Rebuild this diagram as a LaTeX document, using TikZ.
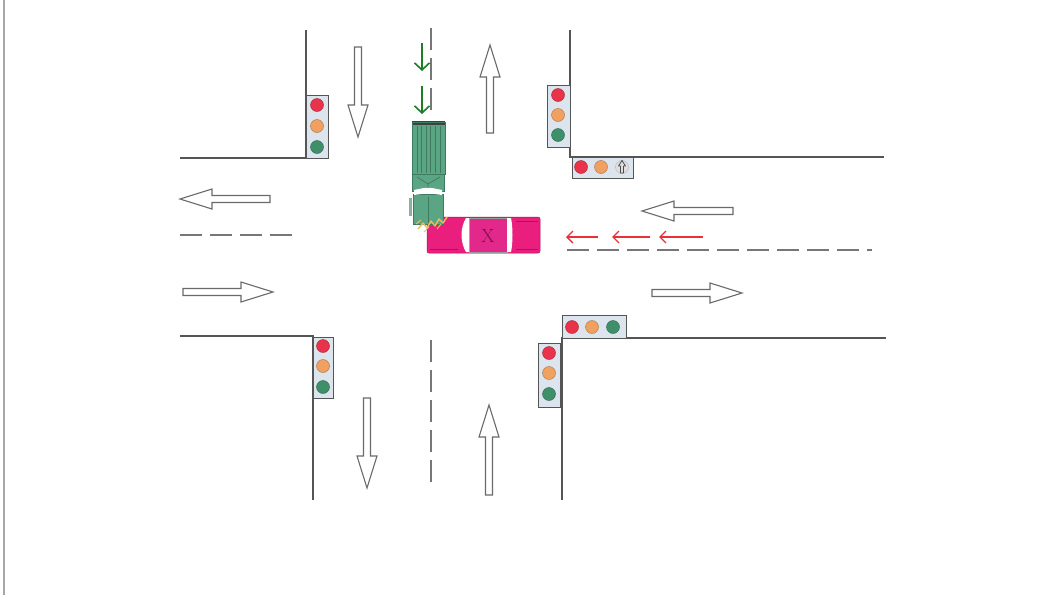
\documentclass[tikz,border=0pt]{standalone}
\usepackage{fontspec}
\usetikzlibrary{arrows.meta}
\definecolor{roadline}{HTML}{555555}
\definecolor{tlbox}{HTML}{DCE4EE}
\definecolor{tlred}{HTML}{E8334A}
\definecolor{tlorange}{HTML}{F0A060}
\definecolor{tlgreen}{HTML}{3F8F6A}
\definecolor{arrgray}{HTML}{6A6A6A}
\definecolor{greenarr}{HTML}{1E7D25}
\definecolor{redarr}{HTML}{E8303A}
\definecolor{truckgreen}{HTML}{5AA584}
\definecolor{truckdark}{HTML}{3E7A60}
\definecolor{carpink}{HTML}{E91E7D}
\definecolor{carroof}{HTML}{E2288A}
\definecolor{crash}{HTML}{E8C060}
\definecolor{xcol}{HTML}{7A1046}
\newcommand{\hollowArrow}[4]{%
  \begin{scope}[shift={(#1,#2)},rotate=#3]
    \draw[harrow] (0,-3.5) -- ({#4-32},-3.5) -- ({#4-32},-10) -- (#4,0) -- ({#4-32},10) -- ({#4-32},3.5) -- (0,3.5) -- cycle;
  \end{scope}}
\newcommand{\lamp}[3]{\fill[#3, draw=#3!70!black, line width=0.4pt] (#1,#2) circle (6.5);}
\begin{document}
\begin{tikzpicture}[x=1pt,y=-1pt,
  road/.style={draw=roadline, line width=1.2pt},
  centerline/.style={draw=roadline!80, line width=1.4pt, dash pattern=on 22pt off 8pt},
  harrow/.style={draw=arrgray, line width=1.1pt, fill=white, line join=miter},
  tlframe/.style={fill=tlbox, draw=roadline, line width=1pt},
  greenar/.style={draw=greenarr, line width=1.6pt, -{Straight Barb[length=7pt,width=15pt]}},
  redar/.style={draw=redarr, line width=1.3pt, -{Straight Barb[length=6pt,width=12pt]}}]
\useasboundingbox (0,0) rectangle (1045,595);
\fill[white] (0,0) rectangle (1045,595);
% left border line
\draw[draw=gray!70, line width=2pt] (4,0) -- (4,595);

% road edges
\draw[road] (306,30) -- (306,158) -- (180,158);
\draw[road] (570,30) -- (570,157) -- (884,157);
\draw[road] (180,336) -- (313,336) -- (313,500);
\draw[road] (886,338) -- (562,338) -- (562,500);

% centre lines
\draw[centerline] (431,28) -- (431,114);
\draw[centerline] (431,340) -- (431,488);
\draw[centerline] (180,235) -- (296,235);
\draw[centerline] (567,250) -- (872,250);

% hollow arrows
\hollowArrow{358}{47}{-90}{90}
\hollowArrow{490}{133}{90}{88}
\hollowArrow{270}{199}{180}{90}
\hollowArrow{183}{292}{0}{90}
\hollowArrow{733}{211}{180}{91}
\hollowArrow{652}{293}{0}{90}
\hollowArrow{367}{398}{-90}{90}
\hollowArrow{489}{495}{90}{90}

% green arrows
\draw[greenar] (422,43) -- (422,71);
\draw[greenar] (422,86) -- (422,114);

% red arrows
\draw[redar] (598,237) -- (566,237);
\draw[redar] (650,237) -- (612,237);
\draw[redar] (703,237) -- (659,237);

% traffic lights
\draw[tlframe] (306,95) rectangle (328,158);
\lamp{317}{105}{tlred}\lamp{317}{126}{tlorange}\lamp{317}{147}{tlgreen}
\draw[tlframe] (547,85) rectangle (570,147);
\lamp{558}{95}{tlred}\lamp{558}{115}{tlorange}\lamp{558}{135}{tlgreen}
\draw[tlframe] (572,157) rectangle (633,178);
\lamp{581}{167}{tlred}\lamp{601}{167}{tlorange}
\fill[gray!25, draw=gray!60, line width=0.4pt] (622,167) circle (6.5);
\draw[draw=black!70, line width=0.8pt, line join=round] (620.5,173) -- (620.5,166) -- (618.5,166) -- (622,160.5) -- (625.5,166) -- (623.5,166) -- (623.5,173) -- cycle;
\draw[tlframe] (562,315) rectangle (626,338);
\lamp{572}{327}{tlred}\lamp{592}{327}{tlorange}\lamp{613}{327}{tlgreen}
\draw[tlframe] (538,343) rectangle (560,407);
\lamp{549}{353}{tlred}\lamp{549}{373}{tlorange}\lamp{549}{394}{tlgreen}
\draw[tlframe] (313,337) rectangle (333,398);
\lamp{323}{346}{tlred}\lamp{323}{366}{tlorange}\lamp{323}{387}{tlgreen}

% car (X)
\fill[carpink, rounded corners=2pt] (427,217) rectangle (540,253);
\draw[carpink!70!black, line width=0.5pt, rounded corners=2pt] (427,217) rectangle (540,253);
\fill[carroof] (469,218) rectangle (507,252);
\draw[gray!80, line width=0.7pt] (469,218) rectangle (507,252);
\fill[white] (466,218) .. controls (460,228) and (460,242) .. (466,252) -- (469,252) -- (469,218) -- cycle;
\fill[white] (507,218) -- (511,218) .. controls (513,228) and (513,242) .. (511,252) -- (507,252) -- cycle;
\draw[carpink!70!black, line width=0.4pt] (516,221) -- (538,221) (516,249) -- (538,249) (430,249) -- (458,249);
\node[text=xcol, font=\fontsize{19}{19}\selectfont, inner sep=0pt] (carX) at (488,236) {X};

% truck (Y)
\fill[truckgreen] (412,122) rectangle (445,174);
\fill[black!75] (412,121) rectangle (445,125);
\foreach \xx in {417,421.5,426,430.5,435,440}
  \draw[truckdark, line width=0.6pt] (\xx,126) -- (\xx,173);
\draw[truckdark, line width=0.6pt] (412,122) rectangle (445,174);
\fill[truckgreen] (412,174) rectangle (444,191);
\draw[truckdark, line width=0.6pt] (412,174) rectangle (444,191);
\draw[truckdark, line width=0.7pt] (417,177) -- (428,184) -- (440,177) (428,184) -- (428,191);
\fill[truckgreen] (413,194) rectangle (443,224);
\draw[truckdark, line width=0.6pt] (413,194) rectangle (443,224);
\fill[white] (414,190) .. controls (428,187) .. (442,190) -- (442,195) .. controls (428,193) .. (414,195) -- cycle;
\draw[truckdark, line width=0.5pt] (428,197) -- (428,223);
\fill[truckdark!60] (409,198) rectangle (412,216);

% crash marks
\draw[crash, line width=1.4pt, line join=round] (418,229) -- (423,223) -- (427,228) -- (431,221) -- (435,226) -- (439,219) -- (443,223) -- (447,217);
\draw[crash, line width=1pt] (416,224) -- (421,220) (424,232) -- (429,227) (437,229) -- (441,224);
\end{tikzpicture}
\end{document}
